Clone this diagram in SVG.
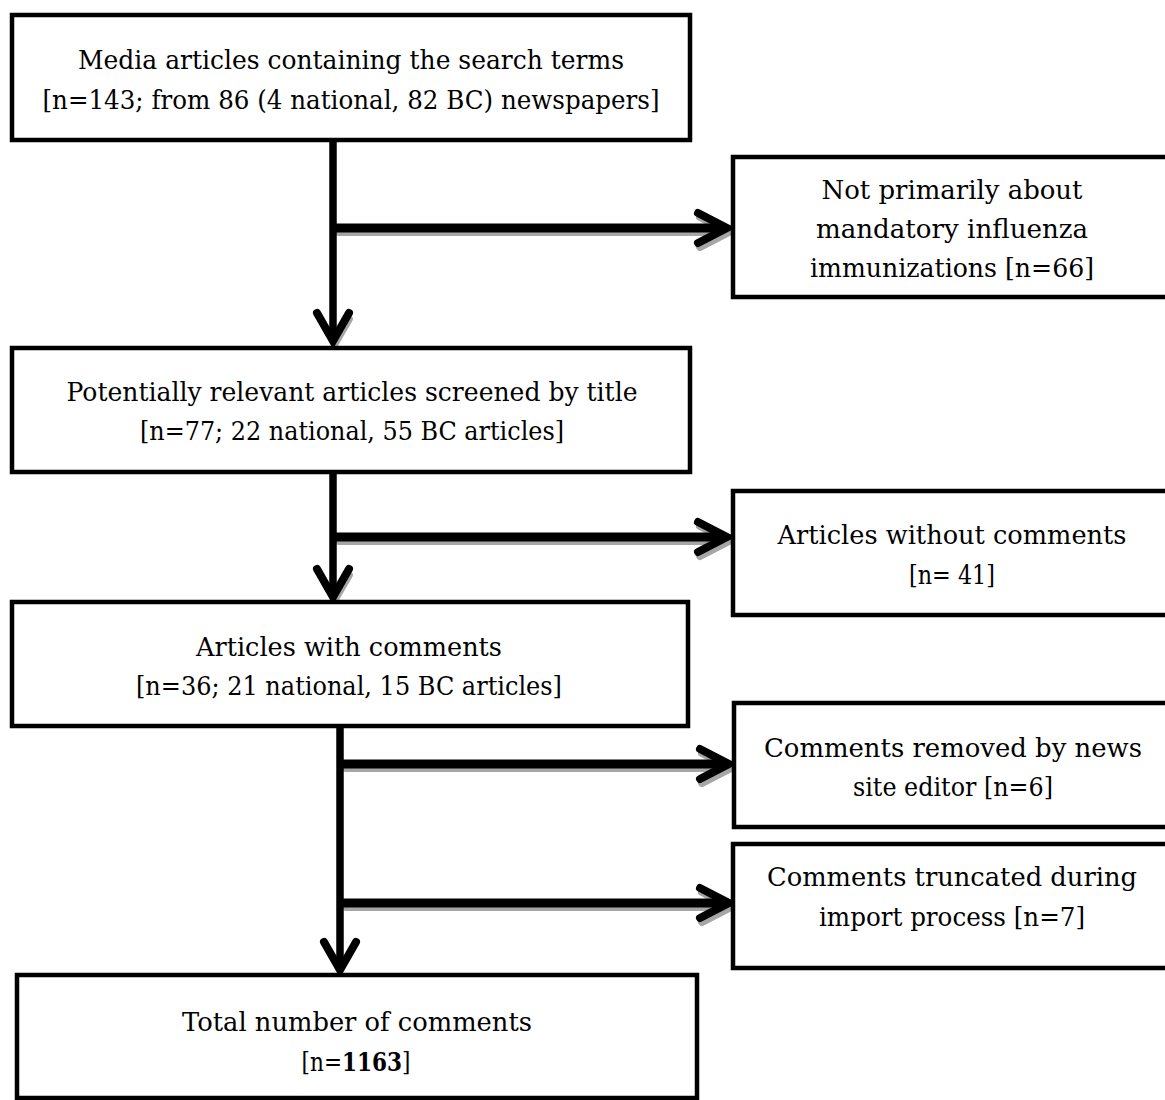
<svg xmlns="http://www.w3.org/2000/svg" width="1165" height="1100" viewBox="0 0 1165 1100">
<style>
.box{fill:#fff;stroke:#000;stroke-width:4.5}
.t{font-family:"DejaVu Serif","Liberation Serif",serif;font-size:26px;fill:#000;text-anchor:middle}
.ln{fill:none;stroke:#000;stroke-linecap:butt}
.sh{fill:none;stroke:#a6a6a6;stroke-linecap:round;stroke-linejoin:round}
.hd{fill:none;stroke:#000;stroke-width:8;stroke-linecap:round;stroke-linejoin:miter}
</style>
<rect width="1165" height="1100" fill="#fff"/>
<g id="connectors">
  <g transform="translate(2,4)">
    <path class="sh" d="M337 228 H722" stroke-width="8"/>
    <polyline class="sh" points="698,213 727,228 698,243" stroke-width="8"/>
    <polyline class="sh" points="318,315 333,341 348,315" stroke-width="6"/>
    <path class="sh" d="M337 537 H722" stroke-width="8"/>
    <polyline class="sh" points="698,522 727,537 698,552" stroke-width="8"/>
    <polyline class="sh" points="318,571 333,597 348,571" stroke-width="6"/>
    <path class="sh" d="M344 764 H722" stroke-width="8"/>
    <polyline class="sh" points="700,749 729,764 700,779" stroke-width="8"/>
    <path class="sh" d="M344 903 H722" stroke-width="8"/>
    <polyline class="sh" points="700,888 729,903 700,918" stroke-width="8"/>
  </g>
  <path class="ln" d="M333 140 V340" stroke-width="7.5"/>
  <path class="ln" d="M333 228 H724" stroke-width="9"/>
  <polyline class="hd" points="698,213 727,228 698,243"/>
  <polyline class="hd" points="317,313 333,341 349,313"/>
  <path class="ln" d="M333 472 V597" stroke-width="7.5"/>
  <path class="ln" d="M333 537 H724" stroke-width="9"/>
  <polyline class="hd" points="698,522 727,537 698,552"/>
  <polyline class="hd" points="317,569 333,597 349,569"/>
  <path class="ln" d="M340 726 V970" stroke-width="7.5"/>
  <path class="ln" d="M340 764 H726" stroke-width="9"/>
  <polyline class="hd" points="700,749 729,764 700,779"/>
  <path class="ln" d="M340 903 H726" stroke-width="9"/>
  <polyline class="hd" points="700,888 729,903 700,918"/>
  <polyline class="hd" points="324,942 340,970 356,942"/>
</g>
<g id="node-media">
  <rect class="box" x="12" y="15" width="678" height="125"/>
  <text class="t" x="351" y="69" textLength="546" lengthAdjust="spacingAndGlyphs">Media articles containing the search terms</text>
  <text class="t" x="351" y="109" textLength="617" lengthAdjust="spacingAndGlyphs">[n=143; from 86 (4 national, 82 BC) newspapers]</text>
</g>
<g id="node-not-primarily">
  <rect class="box" x="733" y="157" width="445" height="140"/>
  <text class="t" x="952" y="199" textLength="261" lengthAdjust="spacingAndGlyphs">Not primarily about</text>
  <text class="t" x="952" y="238" textLength="272" lengthAdjust="spacingAndGlyphs">mandatory influenza</text>
  <text class="t" x="952" y="277" textLength="284" lengthAdjust="spacingAndGlyphs">immunizations [n=66]</text>
</g>
<g id="node-potentially">
  <rect class="box" x="12" y="348" width="678" height="124"/>
  <text class="t" x="352" y="401" textLength="571" lengthAdjust="spacingAndGlyphs">Potentially relevant articles screened by title</text>
  <text class="t" x="352" y="440" textLength="424" lengthAdjust="spacingAndGlyphs">[n=77; 22 national, 55 BC articles]</text>
</g>
<g id="node-without">
  <rect class="box" x="733" y="491" width="445" height="124"/>
  <text class="t" x="952" y="544" textLength="349" lengthAdjust="spacingAndGlyphs">Articles without comments</text>
  <text class="t" x="952" y="584" textLength="86" lengthAdjust="spacingAndGlyphs">[n= 41]</text>
</g>
<g id="node-with">
  <rect class="box" x="12" y="602" width="676" height="124"/>
  <text class="t" x="349" y="656" textLength="306" lengthAdjust="spacingAndGlyphs">Articles with comments</text>
  <text class="t" x="349" y="695" textLength="426" lengthAdjust="spacingAndGlyphs">[n=36; 21 national, 15 BC articles]</text>
</g>
<g id="node-removed">
  <rect class="box" x="734" y="703" width="445" height="124"/>
  <text class="t" x="953" y="757" textLength="378" lengthAdjust="spacingAndGlyphs">Comments removed by news</text>
  <text class="t" x="953" y="796" textLength="200" lengthAdjust="spacingAndGlyphs">site editor [n=6]</text>
</g>
<g id="node-truncated">
  <rect class="box" x="733" y="844" width="445" height="124"/>
  <text class="t" x="952" y="886" textLength="370" lengthAdjust="spacingAndGlyphs">Comments truncated during</text>
  <text class="t" x="952" y="926" textLength="266" lengthAdjust="spacingAndGlyphs">import process [n=7]</text>
</g>
<g id="node-total">
  <rect class="box" x="17" y="975" width="680" height="123"/>
  <text class="t" x="357" y="1031" textLength="350" lengthAdjust="spacingAndGlyphs">Total number of comments</text>
  <text class="t" transform="translate(356,1071) scale(0.83,1)" x="0" y="0">[n=<tspan font-weight="bold">1163</tspan>]</text>
</g>
</svg>
